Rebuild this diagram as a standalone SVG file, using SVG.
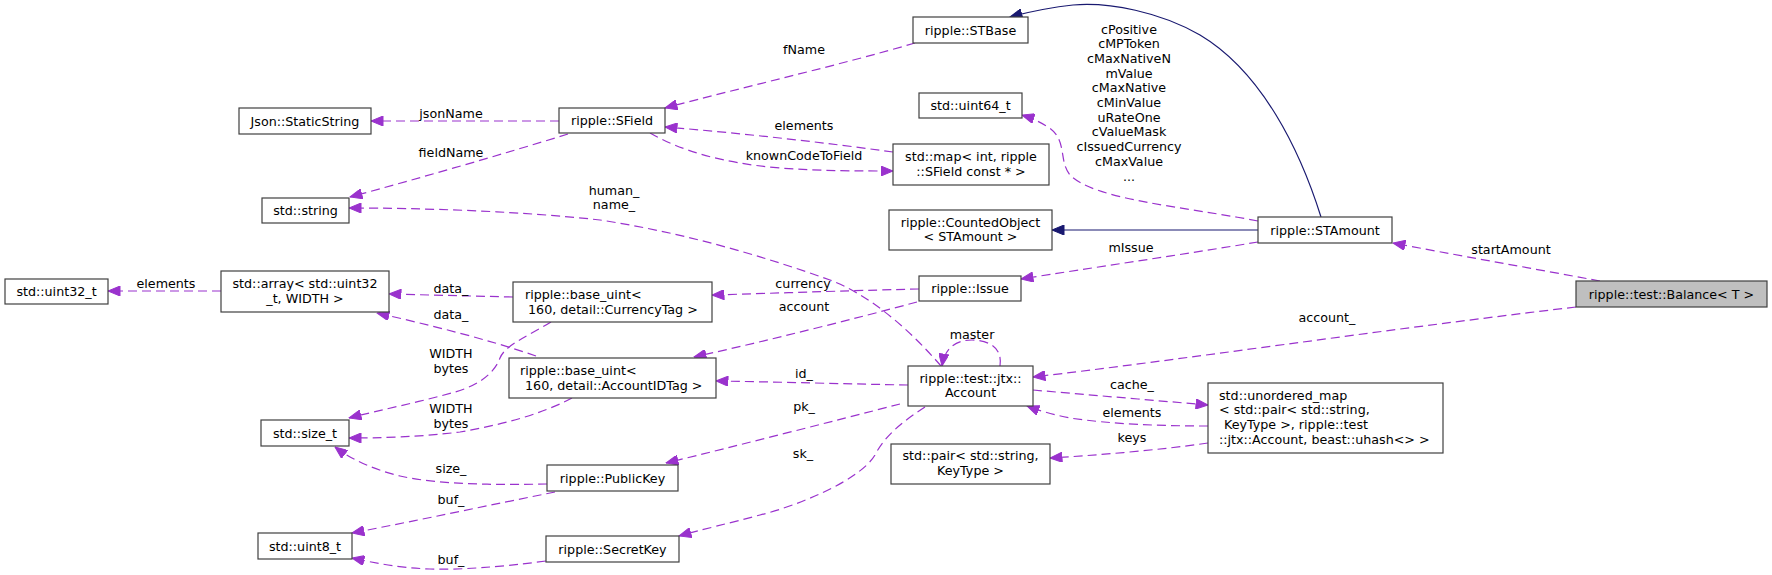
<svg xmlns="http://www.w3.org/2000/svg" width="1772" height="575" viewBox="0 0 1772 575">
<defs>
<style>
.n rect{fill:#ffffff;stroke:#404040;stroke-width:1.2}
.n.hl rect{fill:#bfbfbf}
text{font-family:"DejaVu Sans","Liberation Sans",sans-serif;font-size:12.7px;fill:#000}
.c{text-anchor:middle}
.s{text-anchor:start}
.e path{fill:none;stroke:#9a32cd;stroke-width:1.2;stroke-dasharray:9,5;marker-end:url(#ap)}
.e path.inh{stroke:#191970;stroke-dasharray:none;marker-end:url(#an)}
</style>
<marker id="ap" viewBox="0 0 12 10" refX="12" refY="5" markerUnits="userSpaceOnUse" markerWidth="13" markerHeight="10" orient="auto">
<path d="M0,0 L12,5 L0,10 Z" fill="#9a32cd" stroke="#9a32cd" stroke-width="1"/>
</marker>
<marker id="an" viewBox="0 0 12 10" refX="12" refY="5" markerUnits="userSpaceOnUse" markerWidth="13" markerHeight="10" orient="auto">
<path d="M0,0 L12,5 L0,10 Z" fill="#191970" stroke="#191970" stroke-width="1"/>
</marker>
</defs>
<rect width="1772" height="575" fill="#ffffff"/>

<g id="edges" class="e">
<path class="inh" d="M1321,217 C1300,150 1262,72 1200,35 C1160,12 1110,2 1073,5 C1055,7 1036,10 1010,17"/>
<path class="inh" d="M1258,230 L1052,230"/>
<path d="M1600,281 C1530,268 1450,254 1393,243"/>
<path d="M1576,307 C1380,330 1180,360 1033,377"/>
<path d="M1258,242 C1180,255 1090,268 1021,279"/>
<path d="M1258,221 C1180,206 1095,200 1070,175 C1058,160 1068,140 1048,127 C1040,122 1032,118 1022,115"/>
<path d="M915,43 C840,65 740,88 665,108"/>
<path d="M559,121 L371,121"/>
<path d="M568,134 C500,155 420,178 350,197"/>
<path d="M893,152 C820,142 740,133 665,127"/>
<path d="M650,133 C680,150 720,163 780,168 C820,171 860,171 893,171"/>
<path d="M941,366 C910,330 870,295 830,280 C760,255 680,232 600,220 C520,211 420,208 349,208"/>
<path d="M1000,366 C1003,346 986,340 972,340 C958,340 945,346 942,366"/>
<path d="M917,302 C850,320 770,340 694,357"/>
<path d="M919,289 C870,290 780,293 712,295"/>
<path d="M908,385 C850,384 780,382 716,381"/>
<path d="M900,404 C830,422 740,445 666,463"/>
<path d="M925,407 C905,420 885,435 875,455 C860,480 800,505 760,515 C730,523 700,530 679,536"/>
<path d="M1033,390 C1090,395 1150,400 1208,405"/>
<path d="M1208,426 C1160,426 1110,424 1070,418 C1055,415 1040,411 1027,406"/>
<path d="M1208,443 C1160,450 1100,455 1050,458"/>
<path d="M513,297 C470,296 430,295 389,294"/>
<path d="M536,356 C490,340 430,325 377,313"/>
<path d="M551,322 C530,335 505,345 500,358 C495,372 480,385 455,392 C420,402 380,410 349,418"/>
<path d="M572,398 C540,415 500,425 460,432 C420,437 380,438 349,438"/>
<path d="M547,484 C500,485 440,485 400,476 C375,470 352,460 335,447"/>
<path d="M555,492 C490,505 420,520 352,533"/>
<path d="M546,561 C500,567 460,570 430,569 C400,568 375,563 352,558"/>
<path d="M221,291 L108,291"/>
</g>

<g id="edge-labels">
<text class="c" x="804" y="53.5">fName</text>
<text class="c" x="451" y="117.5">jsonName</text>
<text class="c" x="451" y="156.5">fieldName</text>
<text class="c" x="614" y="194.5">human_</text>
<text class="c" x="614" y="209">name_</text>
<text class="c" x="804" y="129.5">elements</text>
<text class="c" x="804" y="159.5">knownCodeToField</text>
<text class="c" x="1129" y="33.5">cPositive</text>
<text class="c" x="1129" y="48.2">cMPToken</text>
<text class="c" x="1129" y="62.9">cMaxNativeN</text>
<text class="c" x="1129" y="77.6">mValue</text>
<text class="c" x="1129" y="92.3">cMaxNative</text>
<text class="c" x="1129" y="107">cMinValue</text>
<text class="c" x="1129" y="121.7">uRateOne</text>
<text class="c" x="1129" y="136.4">cValueMask</text>
<text class="c" x="1129" y="151.1">cIssuedCurrency</text>
<text class="c" x="1129" y="165.8">cMaxValue</text>
<text class="c" x="1129" y="180.5">...</text>
<text class="c" x="1131" y="251.5">mIssue</text>
<text class="c" x="1511" y="253.5">startAmount</text>
<text class="c" x="1327" y="321.5">account_</text>
<text class="c" x="803" y="287.5">currency</text>
<text class="c" x="804" y="310.5">account</text>
<text class="c" x="972" y="338.5">master</text>
<text class="c" x="804" y="377.5">id_</text>
<text class="c" x="804" y="410.5">pk_</text>
<text class="c" x="803" y="457.5">sk_</text>
<text class="c" x="1132" y="388.5">cache_</text>
<text class="c" x="1132" y="416.5">elements</text>
<text class="c" x="1132" y="441.5">keys</text>
<text class="c" x="166" y="287.5">elements</text>
<text class="c" x="451" y="292.5">data_</text>
<text class="c" x="451" y="318.5">data_</text>
<text class="c" x="451" y="357.5">WIDTH</text>
<text class="c" x="451" y="372.5">bytes</text>
<text class="c" x="451" y="412.5">WIDTH</text>
<text class="c" x="451" y="427.5">bytes</text>
<text class="c" x="451" y="472.5">size_</text>
<text class="c" x="451" y="503.5">buf_</text>
<text class="c" x="451" y="563.5">buf_</text>
</g>

<g id="node-balance" class="n hl"><rect x="1576" y="281" width="191" height="26"/><text class="c" x="1671.5" y="298.5">ripple::test::Balance&lt; T &gt;</text></g>
<g id="node-stamount" class="n"><rect x="1258" y="217" width="134" height="26"/><text class="c" x="1325" y="234.5">ripple::STAmount</text></g>
<g id="node-stbase" class="n"><rect x="913" y="17" width="115" height="26"/><text class="c" x="970.5" y="34.5">ripple::STBase</text></g>
<g id="node-sfield" class="n"><rect x="559" y="108" width="106" height="25"/><text class="c" x="612" y="125">ripple::SField</text></g>
<g id="node-staticstring" class="n"><rect x="239" y="108" width="132" height="26"/><text class="c" x="305" y="125.5">Json::StaticString</text></g>
<g id="node-string" class="n"><rect x="262" y="198" width="87" height="25"/><text class="c" x="305.5" y="215">std::string</text></g>
<g id="node-map" class="n"><rect x="893" y="144" width="156" height="41"/><text class="c" x="971" y="160.5">std::map&lt; int, ripple</text><text class="c" x="971" y="175.5">::SField const * &gt;</text></g>
<g id="node-uint64" class="n"><rect x="919" y="93" width="103" height="25"/><text class="c" x="970.5" y="110">std::uint64_t</text></g>
<g id="node-countedobject" class="n"><rect x="889" y="210" width="163" height="40"/><text class="c" x="970.5" y="226.5">ripple::CountedObject</text><text class="c" x="970.5" y="241">&lt; STAmount &gt;</text></g>
<g id="node-issue" class="n"><rect x="919" y="276" width="102" height="25"/><text class="c" x="970" y="293">ripple::Issue</text></g>
<g id="node-account" class="n"><rect x="908" y="366" width="125" height="40"/><text class="c" x="970.5" y="382.5">ripple::test::jtx::</text><text class="c" x="970.5" y="397">Account</text></g>
<g id="node-baseuint-currency" class="n"><rect x="513" y="282" width="199" height="40"/><text class="s" x="525" y="299">ripple::base_uint&lt;</text><text class="s" x="528" y="313.5">160, detail::CurrencyTag &gt;</text></g>
<g id="node-baseuint-accountid" class="n"><rect x="509" y="358" width="207" height="40"/><text class="s" x="520" y="375">ripple::base_uint&lt;</text><text class="s" x="525" y="389.5">160, detail::AccountIDTag &gt;</text></g>
<g id="node-array" class="n"><rect x="221" y="271" width="168" height="41"/><text class="c" x="305" y="288">std::array&lt; std::uint32</text><text class="c" x="305" y="302.5">_t, WIDTH &gt;</text></g>
<g id="node-uint32" class="n"><rect x="5" y="279" width="103" height="25"/><text class="c" x="56.5" y="296">std::uint32_t</text></g>
<g id="node-sizet" class="n"><rect x="261" y="420" width="88" height="26"/><text class="c" x="305" y="437.5">std::size_t</text></g>
<g id="node-uint8" class="n"><rect x="258" y="533" width="94" height="26"/><text class="c" x="305" y="550.5">std::uint8_t</text></g>
<g id="node-publickey" class="n"><rect x="547" y="465" width="131" height="26"/><text class="c" x="612.5" y="482.5">ripple::PublicKey</text></g>
<g id="node-secretkey" class="n"><rect x="546" y="536" width="133" height="26"/><text class="c" x="612.5" y="553.5">ripple::SecretKey</text></g>
<g id="node-pair" class="n"><rect x="891" y="444" width="159" height="40"/><text class="c" x="970.5" y="460">std::pair&lt; std::string,</text><text class="c" x="970.5" y="475">KeyType &gt;</text></g>
<g id="node-unorderedmap" class="n"><rect x="1208" y="383" width="235" height="70"/><text class="s" x="1219" y="399.5">std::unordered_map</text><text class="s" x="1219" y="414">&lt; std::pair&lt; std::string,</text><text class="s" x="1224" y="428.5">KeyType &gt;, ripple::test</text><text class="s" x="1219" y="443.5">::jtx::Account, beast::uhash&lt;&gt; &gt;</text></g>
</svg>
